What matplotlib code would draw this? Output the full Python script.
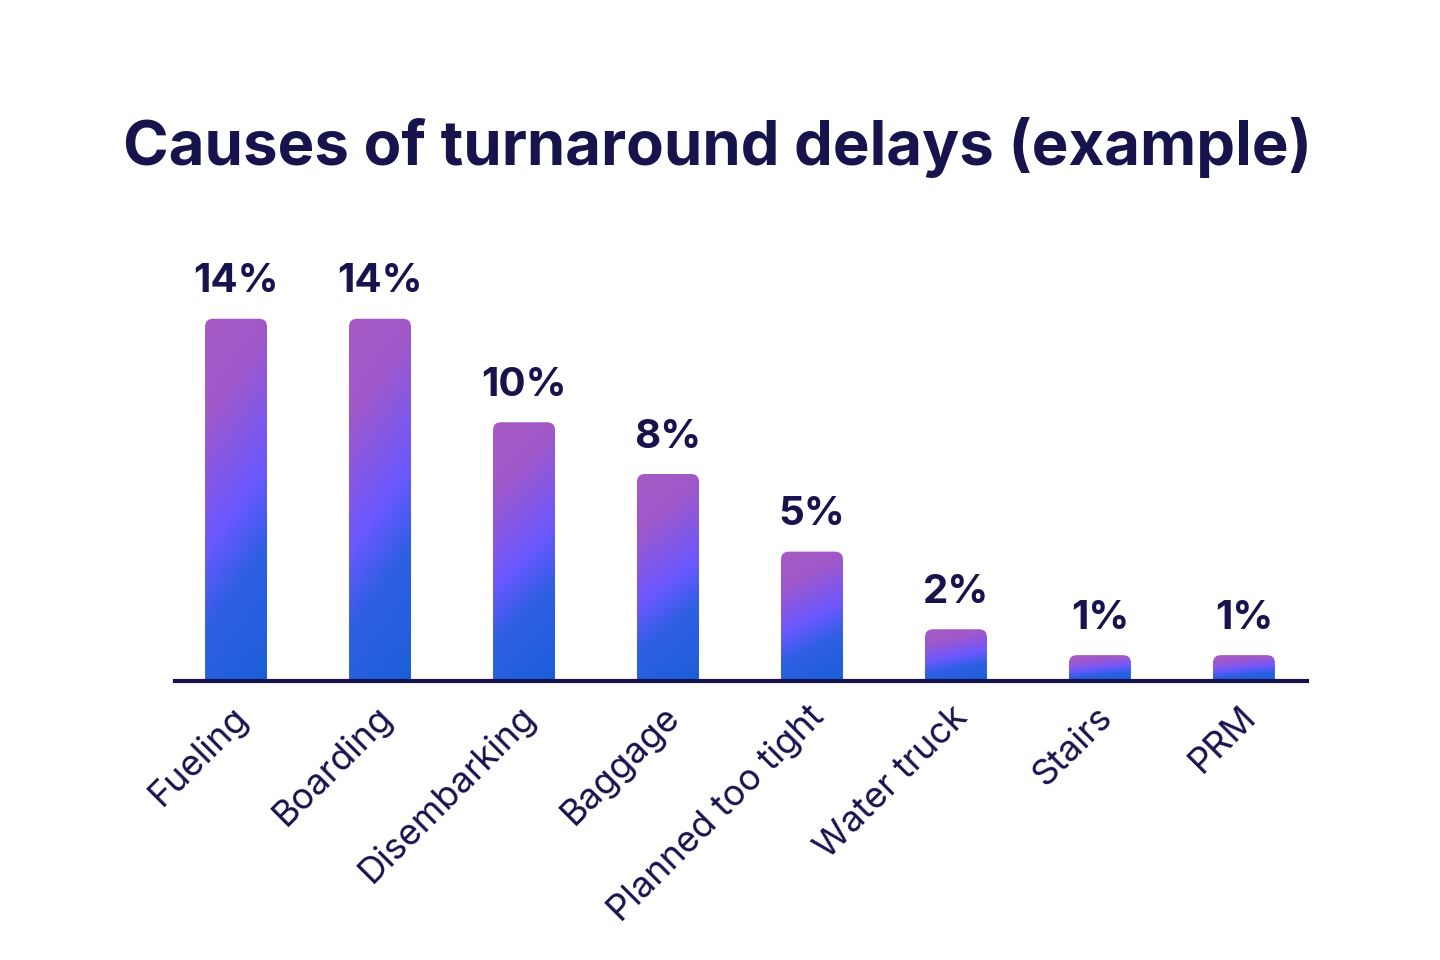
import numpy as np
import matplotlib
matplotlib.use("Agg")
import matplotlib.pyplot as plt
from matplotlib.path import Path
from matplotlib.patches import PathPatch
from matplotlib.colors import LinearSegmentedColormap
from matplotlib.transforms import ScaledTranslation

categories = ["Fueling", "Boarding", "Disembarking", "Baggage",
              "Planned too tight", "Water truck", "Stairs", "PRM"]
values = [14, 14, 10, 8, 5, 2, 1, 1]
labels = [f"{v}%" for v in values]
title = "Causes of turnaround delays (example)"

NAVY = "#16134d"
plt.rcParams['font.family'] = ['Inter', 'DejaVu Sans']

fig = plt.figure(figsize=(14.4, 9.6), dpi=100)
ax = fig.add_axes([175/1440, 279/960, 1132/1440, 414/960])
ax.set_xlim(-0.424, 7.438)
ax.set_ylim(0, 16)

x = np.arange(len(categories))
bars = ax.bar(x, values, width=62/144, color="none")

cmap = LinearSegmentedColormap.from_list("g", [
    (0.0, "#a65ac4"), (0.22, "#a058ca"), (0.52, "#6b58ff"),
    (0.70, "#2f5fe4"), (1.0, "#1b5ed9")])

fig.canvas.draw()
pxx = ax.bbox.width / (ax.get_xlim()[1] - ax.get_xlim()[0])
pxy = ax.bbox.height / (ax.get_ylim()[1] - ax.get_ylim()[0])
r = 8
rx, ry = r / pxx, r / pxy

for rect in bars:
    x0 = rect.get_x(); w = rect.get_width(); h = rect.get_height()
    x1 = x0 + w; y0 = 0; y1 = h
    verts = [(x0, y0), (x0, y1 - ry), (x0, y1), (x0 + rx, y1),
             (x1 - rx, y1), (x1, y1), (x1, y1 - ry), (x1, y0), (x0, y0)]
    codes = [Path.MOVETO, Path.LINETO, Path.CURVE3, Path.CURVE3,
             Path.LINETO, Path.CURVE3, Path.CURVE3, Path.LINETO, Path.CLOSEPOLY]
    patch = PathPatch(Path(verts, codes), facecolor="none", edgecolor="none",
                      transform=ax.transData)
    ax.add_patch(patch)
    u = np.linspace(0, 1, 60)[None, :]
    v = np.linspace(0, 1, 300)[:, None]
    t = (v + 0.235 * u) / 1.235
    img = cmap(t)
    im = ax.imshow(img, extent=(x0, x1, y0, y1), origin="upper",
                   aspect="auto", interpolation="bilinear", zorder=2)
    im.set_clip_path(patch)

for rect, lab in zip(bars, labels):
    ax.annotate(lab, (rect.get_x() + rect.get_width() / 2, rect.get_height()),
                xytext=(0, 19), textcoords="offset points", ha="center",
                va="baseline", fontsize=29, fontweight="bold", color=NAVY)

ax.set_xticks(x)
ax.set_xticklabels(categories, rotation=45, ha="right", va="center",
                   rotation_mode="anchor", fontsize=26, color=NAVY)
ax.tick_params(axis="x", length=0, pad=22)
shift = ScaledTranslation(7/100, 0, fig.dpi_scale_trans)
for lbl in ax.get_xticklabels():
    lbl.set_transform(lbl.get_transform() + shift)
ax.set_yticks([])
for s in ["top", "left", "right"]:
    ax.spines[s].set_visible(False)
ax.spines["bottom"].set_linewidth(3)
ax.spines["bottom"].set_color(NAVY)
ax.spines["bottom"].set_zorder(5)

fig.text(717.5/1440, 1 - 147/960, title, ha="center", va="center",
         fontsize=44.4, fontweight="bold", color=NAVY)

fig.savefig("out.png", dpi=100, facecolor="white")
